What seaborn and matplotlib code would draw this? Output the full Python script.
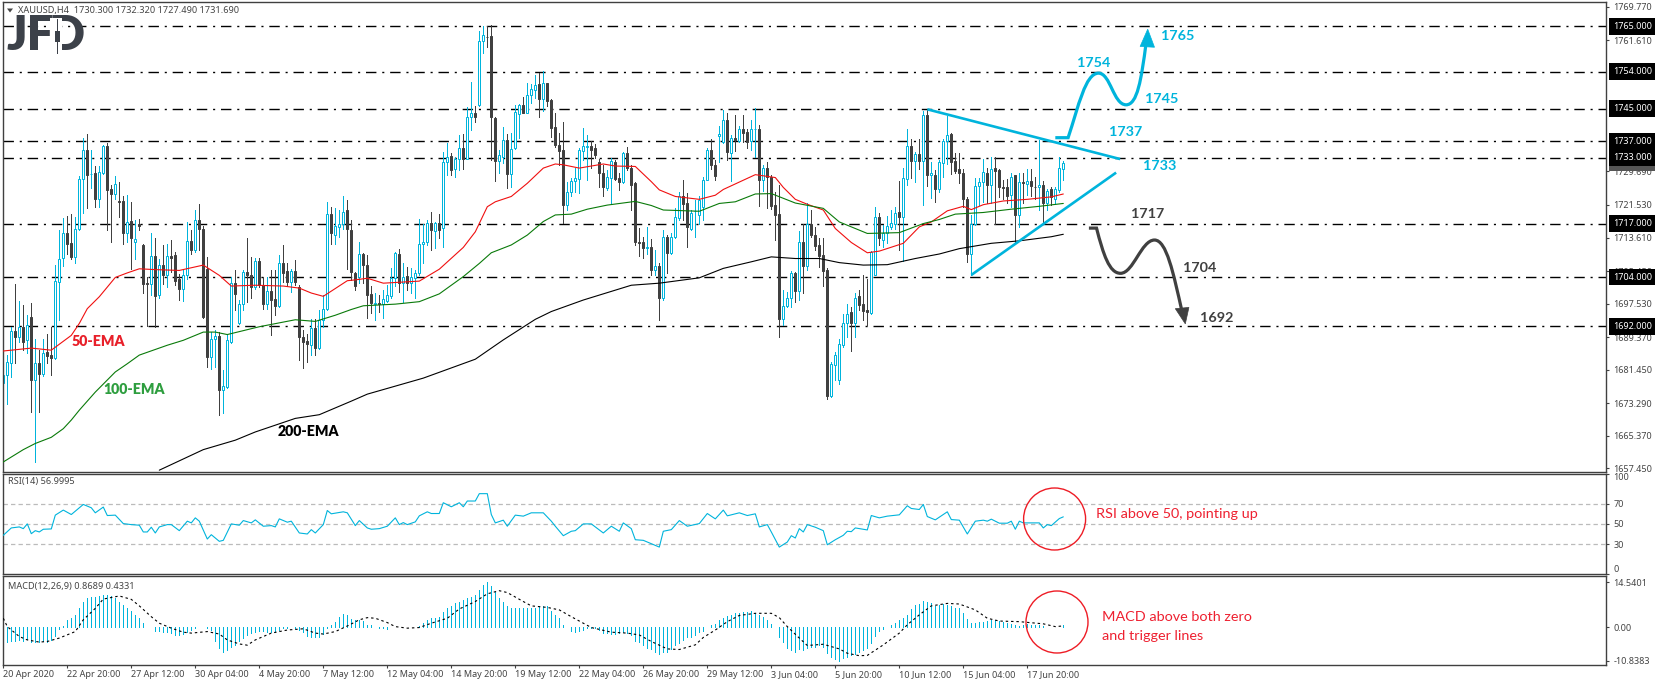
import numpy as np
import pandas as pd
import matplotlib
matplotlib.use("Agg")
import matplotlib.pyplot as plt
from matplotlib.path import Path
from matplotlib.patches import PathPatch, Polygon, Ellipse, Rectangle
import seaborn as sns

opens = [1678.3,1680.1,1683.1,1690.8,1689.4,1691.9,1688.6,1694.3,1678.9,1683,
1680.5,1685.8,1685,1684.2,1702.8,1708.7,1714.8,1712.3,1708.9,1715.8,
1727.9,1734.9,1729,1729.4,1722.9,1729.4,1735.9,1725.4,1724.2,1722.5,
1722.5,1714.6,1717.7,1712.4,1717,1711.7,1702.6,1702.2,1709,1699.6,
1706.9,1704.4,1709,1709.3,1703.4,1701,1704.4,1712.7,1710.5,1717.9,
1715.8,1706,1684.6,1689,1689.6,1676.5,1677.3,1688.2,1702.6,1692.8,
1697.5,1705.2,1704.6,1701.6,1707.8,1702,1697.4,1700.5,1698.6,1696.9,
1707.5,1705.4,1702.8,1705.4,1701.6,1689.4,1688.4,1687.4,1691.7,1686.8,
1693.6,1696.3,1719.3,1714.2,1716.2,1717,1720.2,1715.4,1704.9,1703.9,
1709.6,1706.9,1699.9,1697.4,1697.6,1697.4,1698.2,1699.4,1703.7,1709.6,
1702.5,1704.3,1702.5,1703.7,1704.9,1712,1712.4,1717.1,1715.3,1717.1,
1715.9,1732,1733.5,1730.2,1732.7,1735.3,1732.8,1742.9,1743.8,1745.9,
1761.4,1762.5,1762.6,1742.6,1732.3,1733.3,1737.3,1729,1735.3,1743.7,
1745.9,1744,1748.3,1749.5,1751,1747.2,1751.1,1747.1,1740.4,1736.1,
1734.9,1721.4,1724.6,1727.4,1727.9,1734.7,1735.7,1735.9,1735.3,1731.9,
1729.2,1725.6,1728.2,1731.9,1728.2,1727,1734.1,1730.6,1726.8,1712.6,
1712.6,1711.1,1711.2,1705.6,1706.7,1699,1713.7,1709.9,1713.8,1718.4,
1723.6,1722,1715.8,1720,1719.1,1721.1,1727.7,1734.9,1731.2,1738.4,
1736.9,1742.1,1734.2,1737.9,1737.1,1740.1,1739.2,1737.1,1740,1740.1,
1727.6,1730.6,1728.4,1721.5,1719.3,1693.8,1697,1699,1704.9,1700.6,
1712.4,1706.7,1717,1714.2,1711.8,1709.3,1705.7,1675.1,1682.6,1678.9,
1687.4,1692.9,1695.4,1692.9,1699.3,1697.4,1696,1695.3,1704.5,1718.5,
1713.1,1714.6,1716.2,1717,1719.8,1718.6,1727.9,1735.8,1732.3,1733.9,
1732.3,1743.5,1728.8,1728.9,1725.5,1731.8,1737.1,1738.7,1732.2,1730.4,
1729.4,1723.1,1709.7,1716.9,1726.2,1727.2,1729.4,1726.3,1730.6,1730,
1725.8,1725.8,1723.9,1728.8,1719.2,1727,1726.6,1727.3,1726,1725.9,
1726.5,1721.9,1725.3,1723,1725.2,1730.3]

highs = [1683.3,1685,1691.9,1702.4,1698.1,1697.1,1694.7,1697.7,1689,1686.2,
1689,1690.2,1691.9,1707,1715.4,1718.3,1718.9,1719.3,1718.7,1728.6,
1737.9,1738.8,1734.9,1730.9,1731.1,1736,1736.5,1726.4,1728.6,1727.2,
1723.7,1724,1722.3,1717.8,1718,1712.1,1704,1714.6,1713.4,1708.5,
1711.7,1712.1,1713,1710,1704.8,1705.6,1717.5,1715.5,1720.3,1721.8,
1716.3,1708.9,1690.6,1691,1690.6,1681.3,1689.8,1704,1705.6,1698.3,
1705.6,1713.4,1708.9,1708.7,1708.7,1704,1704,1705.6,1705.6,1709.3,
1711.7,1707.3,1706,1708.2,1702,1691,1690.2,1693.9,1693.9,1695.9,
1699.6,1722.3,1721.1,1720.7,1720.3,1723.6,1722.8,1717.9,1705.3,1712.4,
1709.9,1709.4,1701.7,1700,1699.6,1700.9,1702,1706.1,1710,1710.7,
1707.3,1706.5,1706.1,1705.7,1718,1716.9,1717.9,1719.9,1717.5,1719.3,
1734.5,1736.5,1734.1,1733.3,1738.6,1738.8,1745.3,1751.4,1745.6,1763.9,
1765,1765,1765.3,1742.9,1734.9,1740.6,1738.8,1739,1745.9,1746.1,
1747.9,1751.1,1751,1753.2,1753.6,1754.1,1751.3,1747.2,1743.8,1739,
1741.6,1727.2,1728,1730.6,1735.3,1740.2,1738.6,1737,1736.3,1732.6,
1731.3,1730,1732.9,1732.5,1729.2,1734.3,1735.6,1731.3,1727,1715.9,
1713.7,1716.1,1713.3,1710.6,1707.5,1715.4,1714.2,1714.8,1720.7,1724.8,
1727.6,1724.4,1720.3,1722.8,1723.6,1728.4,1735.5,1737.5,1732.4,1740.7,
1744.6,1743.8,1738.5,1743.4,1740.7,1743.4,1740.1,1742.2,1745.2,1740.9,
1731.2,1731.9,1728.8,1724.7,1726.3,1700.8,1700.4,1705.5,1705.3,1715.2,
1717,1722,1720.3,1716.2,1713.4,1713.4,1706.1,1683.4,1685.8,1689,
1695.1,1697.4,1696.7,1700,1700.8,1704.6,1703.6,1710.4,1721.1,1719.5,
1716.6,1718.8,1720.3,1721.1,1727.4,1730.6,1739.9,1737.7,1734.5,1737.5,
1744.4,1744.6,1732,1730,1732.4,1737.5,1743.1,1739.1,1734.1,1734.1,
1730.2,1723.5,1719,1728.1,1728.2,1732.8,1730.6,1733.1,1733.1,1730.4,
1727.7,1727.8,1729.2,1728.9,1729.2,1729.2,1730.2,1730.2,1728.4,1737.3,
1727.3,1725.5,1725.8,1726,1733.3,1732.32]

lows = [1672.4,1673.2,1679.7,1683,1688.2,1686.2,1685.4,1671.2,1659,1671.2,
1680,1683,1680.1,1684,1693.5,1706.6,1709.7,1708.5,1707.3,1715.4,
1719.5,1720.7,1725.6,1721.1,1721,1729,1715.4,1712.5,1722.9,1718.7,
1712.1,1712.5,1706,1708.5,1715.5,1700,1692,1699.6,1691.9,1698.8,
1702.4,1701.6,1705.2,1702,1698.3,1698.1,1703.6,1709.7,1710,1710.5,
1694,1682.1,1681.7,1682,1670.4,1671,1676.9,1688,1695.9,1692.6,
1696,1698,1698.8,1701.2,1701.6,1696.3,1696.3,1689.8,1694.7,1696.7,
1702.8,1701.8,1700.4,1702,1683.8,1681.9,1683.3,1685,1685,1686.6,
1691.9,1696,1712.1,1712,1713.8,1715.8,1706,1703.3,1700.8,1702.5,
1702.5,1694,1695.2,1693.5,1695.6,1694,1698,1698.8,1701.7,1700.4,
1698,1700.8,1700,1698.8,1704.5,1707.3,1711.8,1710.6,1711,1713.4,
1711.4,1728.7,1728.7,1728.4,1730,1730.2,1732.6,1739.8,1741.6,1745.6,
1758.6,1760,1732.5,1727.4,1729.2,1731.7,1725.7,1725.8,1735.1,1737.8,
1743.8,1743.8,1746.3,1747.5,1742.9,1744.5,1745.6,1738,1735.7,1731.3,
1717.2,1720.2,1723.6,1724.8,1724.5,1732.5,1727.6,1730.5,1732.9,1726,
1723.8,1725.2,1721.8,1727.5,1725.2,1726.8,1730,1720.2,1711.8,1709.1,
1708.6,1709.6,1704.5,1704.5,1693.5,1698.4,1704.9,1709.7,1713.6,1717.9,
1717.9,1711.2,1715.4,1713.8,1717,1717.8,1727.5,1730.4,1727.6,1732,
1736.5,1732.4,1727.4,1734.7,1736.9,1736.9,1735.3,1734.9,1733.2,1721.2,
1724.9,1720.7,1720.5,1713,1689.4,1692.3,1696.7,1696.7,1698,1698.4,
1700.2,1705.7,1713.8,1710.5,1706.5,1701.9,1674.2,1674.9,1678.9,1677.9,
1687,1689.4,1686,1689.4,1695.9,1693.5,1692.3,1695.1,1704.5,1711.8,
1711.3,1712.2,1715.8,1715.8,1710.5,1707.9,1726.3,1728,1727,1730.4,
1721.5,1726.1,1723.3,1722.3,1724.7,1728.4,1731.6,1729,1729.3,1726.8,
1721.1,1707.7,1704.4,1716.6,1721.5,1722.3,1721.9,1722.1,1717,1723.5,
1722.9,1721.9,1721,1712.6,1716.2,1721.9,1723.9,1723.7,1723,1720.3,
1717.2,1720.4,1721.5,1721.8,1724.8,1727.49]

closes = [1680.1,1683.2,1690.8,1689.4,1691.9,1688.2,1692.4,1678.9,1683,1680.3,
1685.4,1684.7,1684.2,1703,1708.5,1714.8,1712,1708.9,1715.8,1727.9,
1734.9,1728.8,1729,1722.9,1729.6,1735.9,1725.2,1724.2,1726.6,1722.3,
1714.6,1717.5,1713.4,1713.2,1716.5,1702.4,1702.2,1709,1699.3,1706.9,
1704.4,1709,1708.7,1703,1701,1704.4,1712.7,1710.5,1717.9,1715.8,
1694.3,1684.6,1689,1689.6,1676.5,1677.5,1688.6,1702.6,1699.8,1697.5,
1705.2,1704.4,1701.6,1707.8,1702,1697.4,1700.5,1698.3,1696.9,1707.5,
1705,1702.8,1705.4,1702.8,1689.3,1688.2,1687.6,1691.7,1686.8,1693.6,
1696.3,1719.3,1714.6,1716.3,1717,1719.7,1715.8,1705.1,1701.7,1709.5,
1706.9,1699.6,1697.6,1697.6,1697.4,1698.6,1699.6,1703.7,1709.8,1702.5,
1704.1,1702.5,1703.9,1704.9,1712,1712.6,1717.1,1715.4,1717.1,1715.4,
1731.9,1733.3,1730,1732.7,1735.3,1732.8,1742.9,1743.8,1742.9,1761.4,
1762.9,1762.3,1742.9,1732.3,1733.6,1737.3,1729,1735.2,1744.1,1745.9,
1744,1748.3,1749.8,1750.6,1747.2,1751.1,1746.9,1740.3,1736,1734.7,
1721.4,1724.6,1727.4,1728,1734.9,1735.9,1735.9,1734.9,1733.7,1729.2,
1725.8,1728.3,1732.2,1727.8,1727.2,1734.1,1730.5,1726.4,1712.4,1712.2,
1711.1,1711.2,1705.7,1706.7,1699,1713.7,1709.8,1713.7,1718.5,1723.6,
1721.8,1716.1,1719.5,1720.1,1722.8,1727.7,1734.9,1731.2,1728.5,1738.9,
1742.1,1734.5,1737.9,1737.3,1740.1,1739.1,1736.9,1740.1,1740.1,1727.6,
1730.6,1728.4,1721.2,1719,1693.8,1697,1699,1704.9,1700.6,1712.4,
1706.7,1716.9,1714.2,1711.6,1709.2,1705.5,1675.1,1682.8,1685,1687.6,
1692.9,1695.1,1692.9,1699,1697.2,1695.8,1695.4,1710.2,1718.5,1713.4,
1714.6,1716.4,1717.2,1719.5,1718.6,1728,1735.8,1732.3,1733.9,1732.3,
1743.5,1728.8,1729.4,1725.5,1731.9,1737.1,1738.5,1732,1729.8,1729.3,
1723.1,1709.7,1716.9,1726.2,1727.2,1729.6,1726.3,1730.4,1729.8,1725.8,
1725.6,1723.8,1728.4,1719.2,1727,1726.8,1727.3,1726.1,1725.9,1726.5,
1721.9,1725,1723.4,1725.3,1730.5,1731.69]

ema50_bar = [0,7,12,17,19,21,24,28,31,34,38,44,50,54,57,63,70,74,77,80,83,86,88,91,95,104,109,115,118,121,123,127,131,135,138,140,144,150,153,158,162,164,168,174,178,180,188,193,195,198,201,205,208,212,216,219,225,229,232,236,240,242,245,250,256,262,265]
ema50_val = [1686,1686.7,1686.2,1689.8,1692.7,1696.3,1699.2,1703.9,1705,1706,1705.8,1705.6,1706.9,1704.4,1701.8,1702,1701.8,1701.3,1700.1,1699.3,1701.2,1703.1,1703.3,1703.7,1702.5,1703,1705.9,1711.2,1715,1721.1,1722.3,1723.6,1726.8,1730.5,1731.5,1731.3,1730.5,1731.5,1731,1730.9,1727.2,1725.2,1723.6,1722.9,1723.9,1725.3,1728.9,1728.2,1725.8,1722.9,1721.7,1720.3,1715.8,1712.4,1709.9,1710.3,1712.2,1716.2,1717.4,1720.1,1721.2,1720.4,1721.6,1722.5,1722.9,1723.5,1724.2]

ema100_bar = [0,5,8,12,15,17,19,23,28,31,34,41,45,50,53,56,64,73,78,83,87,90,98,104,109,115,119,122,127,131,135,138,142,146,151,158,162,165,174,179,183,188,192,198,205,209,216,224,230,234,238,245,252,259,265]
ema100_val = [1659,1662,1663.5,1665,1667.1,1669.2,1671.6,1676,1680.9,1682.9,1685,1687.4,1688.6,1690.6,1690.6,1690,1691.9,1693.6,1693.2,1694.7,1696.1,1697,1697.4,1698,1699.9,1704.1,1707.3,1709.9,1711.8,1714.2,1717.5,1719.1,1719.3,1720.5,1721.5,1722.4,1721.4,1720.3,1720,1721.9,1722.3,1724.2,1724.3,1722,1720.7,1717.4,1714.6,1714.8,1717,1718,1719.3,1719.7,1720.5,1721.2,1721.9]

ema200_bar = [39,50,58,63,73,79,87,91,105,118,125,133,137,145,153,157,164,174,180,187,192,198,204,209,215,221,228,234,239,247,254,262,265]
ema200_val = [1657,1662,1664.3,1666.3,1669.6,1670.5,1673.8,1675.5,1679.4,1684,1688.7,1693.7,1695.6,1698.4,1700.8,1702,1702.5,1703.8,1706.1,1707.7,1708.9,1708.5,1708.5,1707.5,1706.9,1707,1708.5,1709.6,1710.9,1712.2,1712.8,1713.8,1714.4]

rsi_bar = [0,2,4,5,6,7,8,9,10,12,13,15,17,20,22,23,25,26,28,30,32,34,35,36,37,38,39,41,42,44,46,47,48,49,51,52,54,55,57,59,60,62,63,65,67,68,69,71,72,74,76,77,78,80,81,82,85,86,88,89,91,92,94,96,98,99,100,101,103,104,106,107,109,110,112,114,115,116,118,119,121,122,123,125,126,128,130,132,133,135,137,138,140,142,143,145,147,150,152,154,155,157,158,160,162,164,165,167,169,171,174,176,178,180,181,184,186,188,189,191,192,194,196,197,198,199,200,201,203,205,206,208,210,211,212,213,216,217,219,221,224,226,227,229,230,231,233,236,237,239,241,243,245,246,247,249,251,252,253,254,255,259,260,261,262,264,265]
rsi_val = [38.7,46,47,45.3,50,40.3,43.3,42,44.7,45,58.7,63.7,59.3,69.3,66,61,66.7,58.3,58.7,50.3,49.3,48.7,42,42,46.7,41,47,49.3,49.3,43.3,52.7,51,56,52.7,35,39.3,32.7,33.7,50,48.7,53.3,51,54,47.7,48.3,47,55,51.7,52.7,41,40,44.3,41,49.3,63.3,60,62,61,48.3,53.3,46,44.7,45.3,47.7,56,49.3,51.3,49.3,52,58,62,60.3,60.3,71,67,71,67,72.7,72.7,80,80,59.3,51,53.7,47.7,58.7,57.7,61,61,61,52.7,47.7,38.3,42.7,43.3,50,50,41,47.7,42.7,51,45.3,34.3,33.7,30.3,27,42.7,44.3,53.3,47.7,50.3,60.3,55,63.7,58,61,58.3,60,47,49.3,42,27,32,38.3,36,45.3,42,49.3,46.7,43.3,29.3,34.3,38.7,42.7,42.3,46,44,58.3,56,57.7,59,68,65.3,64.3,69.3,57.3,54,62,54.3,53.7,40,52.7,53.7,52.7,54.7,50.7,50.7,52.7,44.7,52.7,51,51,46,49.3,48.3,55.3,57]

macd_hist = [-4.6,-4.9,-4.6,-4.4,-4.2,-4.3,-3.9,-4.8,-4.8,-4.8,
-4.6,-4.8,-4.1,-2.7,-0.6,0.5,2.2,2.9,4.0,6.1,
8.3,9.6,9.7,9.8,10.2,10.4,10.4,10.2,9.6,8.3,
7.2,6.1,5.1,4.0,2.9,1.3,0.2,0.0,-1.1,-1.2,
-1.4,-1.7,-1.9,-2.4,-2.4,-2.2,-1.6,-0.9,-0.1,0.1,
0.0,-0.1,-0.9,-4.6,-6.8,-7.9,-7.3,-6.3,-5.7,-4.6,
-3.6,-2.5,-2.0,-1.4,-1.2,-1.2,-1.4,-1.4,-1.4,-0.9,
-0.3,-0.1,0,-0.3,-0.9,-1.4,-2.7,-3.0,-3.0,-3.3,
-2.2,-0.3,0.8,1.8,3.4,4.3,4.0,2.6,2.4,2.4,
2.0,0.8,0.8,0,-0.3,-0.3,-0.5,0,0.1,0.1,
0.1,0,0.1,0.1,0.5,1.5,2.2,2.9,3.1,3.4,
4.8,6.1,7.0,7.7,8.3,8.8,9.3,9.9,10.4,12.0,
13.7,14.5,13.4,11.5,9.5,8.3,6.8,6.1,6.1,6.1,
6.1,6.1,6.1,6.3,6.5,6.7,6.7,5.4,4.0,2.9,
0.8,0.2,-1.2,-1.4,-1.2,-0.9,-0.3,-0.1,-0.3,-0.9,
-2.0,-2.0,-2.2,-2.2,-2.0,-1.7,-2.0,-2.5,-4.6,-4.8,
-5.7,-6.6,-7.0,-7.9,-8.6,-8.1,-7.9,-7.0,-5.7,-5.2,
-4.1,-3.2,-3.0,-2.5,-1.4,-1.2,0,0.8,1.1,2.4,
2.9,3.7,4.0,4.5,4.7,4.8,4.8,5.1,4.7,4.0,
3.2,2.4,1.1,0,-3.2,-4.8,-6.6,-7.3,-7.9,-7.0,
-7.3,-6.8,-6.3,-6.3,-5.7,-6.5,-8.4,-9.5,-10.2,-10.84,
-10,-9.5,-8.9,-8.6,-8.1,-7.3,-6.8,-5.2,-2.8,-1.2,
-0.5,0,0.8,1.5,2.4,3.1,4.0,5.9,7.2,7.4,
8.5,8.3,7.7,7.0,7.2,7.4,7.2,6.7,6.1,6.1,
4.5,2.7,1.5,1.5,1.6,1.8,2.0,2.4,2.2,2.0,
1.6,1.5,1.2,0.8,0.5,0.8,1.0,0.8,0.8,0.8,
0.5,0.2,0.2,0.2,0.1,0.87]

signal_bar = [0,1,4,6,9,11,14,18,20,23,25,29,32,34,37,39,42,45,47,51,54,56,59,61,63,67,71,75,78,80,83,86,89,91,93,96,98,101,104,107,111,114,118,121,124,126,130,132,136,139,142,145,147,152,156,159,162,166,169,173,175,178,181,184,188,192,194,196,199,201,205,209,211,214,216,220,224,226,229,232,236,239,243,246,249,254,260,263,265]
signal_val = [2.9,0.2,-3,-4.1,-4.8,-4.6,-3.5,-1.4,2.4,6.1,9.1,10.1,9,6.9,3.4,1.3,-0.3,-1.6,-1.9,-1.4,-2.2,-4.1,-5.4,-5.8,-4.1,-1.9,-0.9,-0.5,-1.9,-2.2,-1.4,0.4,2.4,3.1,2.9,1.5,0.2,-0.3,-0.1,1.3,2.9,5.9,8.3,10.8,11.8,11.2,8.3,6.9,6.4,5.6,3.4,1.3,-0.1,-1.6,-1.9,-2.5,-4.6,-7,-7.2,-5.7,-3.3,-0.9,1.8,3.8,4.5,4.5,3.1,0.2,-3.5,-5.9,-5.5,-7,-8.4,-9.2,-9.1,-5.7,-1.9,0.8,4,6.9,7.7,7.5,5.6,2.9,2,1.8,1.1,0.2,0.43]

levels = [1765, 1754, 1745, 1737, 1733, 1717, 1704, 1692]
price_ticks = [1769.77, 1761.61, 1729.69, 1721.53, 1713.61, 1705.45, 1697.53, 1689.37, 1681.45, 1673.29, 1665.37, 1657.45]
rsi_levels = [70, 50, 30]
rsi_ticks = [100, 70, 50, 30, 0]
macd_ticks = [14.5401, 0.0, -10.8383]
macd_tick_labels = ["14.5401", "0.00", "-10.8383"]
date_labels = ["20 Apr 2020","22 Apr 20:00","27 Apr 12:00","30 Apr 04:00","4 May 20:00","7 May 12:00","12 May 04:00","14 May 20:00","19 May 12:00","22 May 04:00","26 May 20:00","29 May 12:00","3 Jun 04:00","5 Jun 20:00","10 Jun 12:00","15 Jun 04:00","17 Jun 20:00"]
date_bars = list(range(0, 17 * 16, 16))

CYAN = "#00B4DC"
DARK = "#404040"
FRAME = "#404040"
TXT = "#444444"
W, H = 1655, 686
SMALL = 6.5

sns.set_theme(style="white")
plt.rcParams["font.family"] = ["Noto Sans", "DejaVu Sans"]
plt.rcParams["axes.unicode_minus"] = False

fig = plt.figure(figsize=(W / 100, H / 100), dpi=100, facecolor="white")


def make_axes(top, bottom):
    a = fig.add_axes([2.5 / W, (H - bottom) / H, (1606 - 2.5) / W, (bottom - top) / H])
    a.set_xlim(-0.2, 400.67)
    for s in a.spines.values():
        s.set_color(FRAME)
        s.set_linewidth(1.0)
    a.yaxis.tick_right()
    a.tick_params(axis="y", right=True, length=2, width=0.8, color=FRAME, labelsize=SMALL,
                  labelcolor=TXT, pad=3.5)
    a.tick_params(axis="x", bottom=False, labelbottom=False)
    return a


ax = make_axes(2.3, 471.7)
ax_rsi = make_axes(473.5, 574.3)
ax_macd = make_axes(576, 665)

bars = np.arange(len(closes))
o, h, l, c = map(np.asarray, (opens, highs, lows, closes))
up = c >= o

# level lines
for lv in levels:
    ax.axhline(lv, color="black", lw=1.0, dashes=(7.5, 4.2, 1.5, 4.2), zorder=1)

# candles
ax.vlines(bars[up], l[up], h[up], color=CYAN, lw=0.72, zorder=2, antialiased=False)
ax.vlines(bars[~up], l[~up], h[~up], color=DARK, lw=0.72, zorder=2, antialiased=False)
ax.bar(bars[up], (c - o)[up], bottom=o[up], width=0.5, facecolor="white", edgecolor=CYAN,
       linewidth=0.72, zorder=2.2)
ax.bar(bars[~up], (c - o)[~up], bottom=o[~up], width=0.5, facecolor=DARK, edgecolor=DARK,
       linewidth=0.72, zorder=2.2)

# moving averages
sns.lineplot(x=ema50_bar, y=ema50_val, ax=ax, color="#F01010", lw=0.8, errorbar=None, zorder=3)
sns.lineplot(x=ema100_bar, y=ema100_val, ax=ax, color="#0A7A0A", lw=0.8, errorbar=None, zorder=3)
sns.lineplot(x=ema200_bar, y=ema200_val, ax=ax, color="black", lw=0.8, errorbar=None, zorder=3)

ax.set_xlim(-0.2, 400.67)
ax.set_ylim(1656.63, 1770.84)
ax.set_xlabel("")
ax.set_ylabel("")
ax.set_yticks(price_ticks)
ax.set_yticklabels([f"{v:.3f}" for v in price_ticks])

# triangle
tri_down_x, tri_down_y = [231, 279.2], [1744.8, 1732.7]
tri_up_x, tri_up_y = [242, 278.2], [1704.5, 1729.4]
ax.plot(tri_down_x, tri_down_y, color=CYAN, lw=1.9, zorder=4, solid_capstyle="butt")
ax.plot(tri_up_x, tri_up_y, color=CYAN, lw=1.9, zorder=4, solid_capstyle="butt")

# projected paths
up_path = Path(
    [(263, 1737.9), (266.2, 1737.9),
     (268.8, 1745.5), (270.5, 1753.6), (273.8, 1753.6),
     (276.8, 1753.6), (277.5, 1745.9), (280.7, 1745.9),
     (283.5, 1745.9), (284.5, 1752), (285.7, 1761)],
    [Path.MOVETO, Path.LINETO, Path.CURVE4, Path.CURVE4, Path.CURVE4,
     Path.CURVE4, Path.CURVE4, Path.CURVE4, Path.CURVE4, Path.CURVE4, Path.CURVE4])
ax.add_patch(PathPatch(up_path, fc="none", ec=CYAN, lw=2.3, zorder=4, capstyle="butt"))
ax.add_patch(Polygon([(286.1, 1764.3), (284.2, 1760.1), (287.8, 1759.9)], closed=True,
                     fc=CYAN, ec=CYAN, lw=0.5, zorder=4))

dn_path = Path(
    [(271.4, 1715.9), (273.3, 1715.9),
     (275, 1709.5), (276.5, 1704.9), (279.3, 1704.9),
     (282.5, 1704.9), (284.5, 1713), (287.8, 1713),
     (290.8, 1713), (292.5, 1705), (294.7, 1695.5)],
    [Path.MOVETO, Path.LINETO, Path.CURVE4, Path.CURVE4, Path.CURVE4,
     Path.CURVE4, Path.CURVE4, Path.CURVE4, Path.CURVE4, Path.CURVE4, Path.CURVE4])
ax.add_patch(PathPatch(dn_path, fc="none", ec=DARK, lw=2.3, zorder=4, capstyle="butt"))
ax.add_patch(Polygon([(295.5, 1692.6), (293.0, 1696.3), (296.4, 1696.6)], closed=True,
                     fc=DARK, ec=DARK, lw=0.5, zorder=4))

# right-hand boxes
BOX_OFF = 5.2
ax.annotate("1731.690", xy=(1, 1731.69), xycoords=("axes fraction", "data"),
            xytext=(BOX_OFF, 0), textcoords="offset points", va="center", ha="left",
            fontsize=SMALL, color="#dddddd", zorder=9, annotation_clip=False,
            bbox=dict(boxstyle="square,pad=0.42", fc="#555555", ec="none"))
for lv in levels:
    ax.annotate(f"{lv:.3f}", xy=(1, lv), xycoords=("axes fraction", "data"),
                xytext=(BOX_OFF, 0), textcoords="offset points", va="center", ha="left",
                fontsize=SMALL, color="white", zorder=10, annotation_clip=False,
                bbox=dict(boxstyle="square,pad=0.42", fc="black", ec="none"))


def ftext(x, y, s, **kw):
    return fig.text(x / W, 1 - y / H, s, **kw)


for s, x, y, col in [("1765", 1161.5, 36, CYAN), ("1754", 1077, 63, CYAN), ("1745", 1145, 99, CYAN),
                     ("1737", 1109, 132, CYAN), ("1733", 1143, 166, CYAN),
                     ("1717", 1131, 214, DARK), ("1704", 1183, 268, DARK), ("1692", 1200, 318, DARK)]:
    ftext(x, y, s, color=col, family=["Lato"], fontweight="bold", fontsize=10.4, va="center", ha="left", zorder=12)

for s, x, y, col in [("50-EMA", 72, 341.7, "#E8202A"), ("100-EMA", 103, 390, "#2E9E3F"), ("200-EMA", 278, 431, "black")]:
    ftext(x, y, s, color=col, family=["Lato"], fontweight="heavy", fontsize=10.2, va="center", ha="left", zorder=12)

# header
ftext(17.7, 10.7, "XAUUSD,H4  1730.300 1732.320 1727.490 1731.690", color=TXT, fontsize=6.6,
      va="center", ha="left", zorder=12)
fig.add_artist(Polygon([(7 / W, 1 - 8.5 / H), (13 / W, 1 - 8.5 / H), (10 / W, 1 - 12.5 / H)],
                       closed=True, fc=TXT, ec="none", transform=fig.transFigure))

# logo
LOGO = "#3C4149"
ftext(6.5, 36.5, "JF", color=LOGO, family=["Lato"], fontweight="heavy", fontsize=34, va="center", ha="left", zorder=12)
ftext(49, 36.5, "D", color=LOGO, family=["Lato"], fontweight="heavy", fontsize=34, va="center", ha="left", zorder=12)
fig.add_artist(Rectangle((50 / W, 1 - 56 / H), 12 / W, 38 / H, fc="white", ec="none",
                         transform=fig.transFigure, zorder=13))
fig.add_artist(Rectangle((57 / W, 1 - 54 / H), 1 / W, 35 / H, fc=LOGO, ec="none",
                         transform=fig.transFigure, zorder=14))
fig.add_artist(Rectangle((55 / W, 1 - 42 / H), 5 / W, 11 / H, fc=LOGO, ec="none",
                         transform=fig.transFigure, zorder=14))

# RSI panel
for lv in rsi_levels:
    ax_rsi.axhline(lv, color="#BBBBBB", lw=0.9, dashes=(3.5, 2.5), zorder=1)
sns.lineplot(x=rsi_bar, y=rsi_val, ax=ax_rsi, color=CYAN, lw=0.8, errorbar=None, zorder=3)
ax_rsi.set_xlim(-0.2, 400.67)
ax_rsi.set_ylim(0, 100)
ax_rsi.set_xlabel("")
ax_rsi.set_ylabel("")
ax_rsi.set_yticks(rsi_ticks)
ax_rsi.set_yticklabels([str(v) for v in rsi_ticks])
rsi_lab = ax_rsi.get_yticklabels()
rsi_lab[0].set_va("top")
rsi_lab[-1].set_va("bottom")
ax_rsi.text(0.0035, 0.92, "RSI(14) 56.9995", transform=ax_rsi.transAxes, fontsize=6.6, color=TXT, va="center")

# MACD panel
ax_macd.vlines(bars, 0, macd_hist, color=CYAN, lw=0.72, zorder=2, antialiased=False)
sns.lineplot(x=signal_bar, y=signal_val, ax=ax_macd, color="black", lw=0.8, errorbar=None,
             zorder=3, linestyle=(0, (2.2, 2.6)))
ax_macd.set_xlim(-0.2, 400.67)
ax_macd.set_ylim(-12.2, 16.55)
ax_macd.set_xlabel("")
ax_macd.set_ylabel("")
ax_macd.set_yticks(macd_ticks)
ax_macd.set_yticklabels(macd_tick_labels)
ax_macd.text(0.0035, 0.885, "MACD(12,26,9) 0.8689 0.4331", transform=ax_macd.transAxes, fontsize=6.6,
             color=TXT, va="center")
ax_macd.set_xticks(date_bars)
ax_macd.set_xticklabels(date_labels, ha="left", fontsize=SMALL, color=TXT)
ax_macd.tick_params(axis="x", bottom=True, labelbottom=True, length=2, width=0.8, color=FRAME, pad=1.5)

# commentary
for (cx, cy) in [(1054.6, 519), (1057, 622)]:
    fig.add_artist(Ellipse((cx / W, 1 - cy / H), 62 / W, 62 / H, fc="none", ec="#EE1C25", lw=1.0,
                           transform=fig.transFigure, zorder=12))
REDTXT = "#EE2030"
ftext(1095.5, 514, "RSI above 50, pointing up", color=REDTXT, family=["Lato"], fontsize=10.4, va="center", zorder=12)
ftext(1102.5, 617, "MACD above both zero", color=REDTXT, family=["Lato"], fontsize=10.4, va="center", zorder=12)
ftext(1102.5, 636, "and trigger lines", color=REDTXT, family=["Lato"], fontsize=10.4, va="center", zorder=12)

fig.savefig("out.png", dpi=100, facecolor="white")
